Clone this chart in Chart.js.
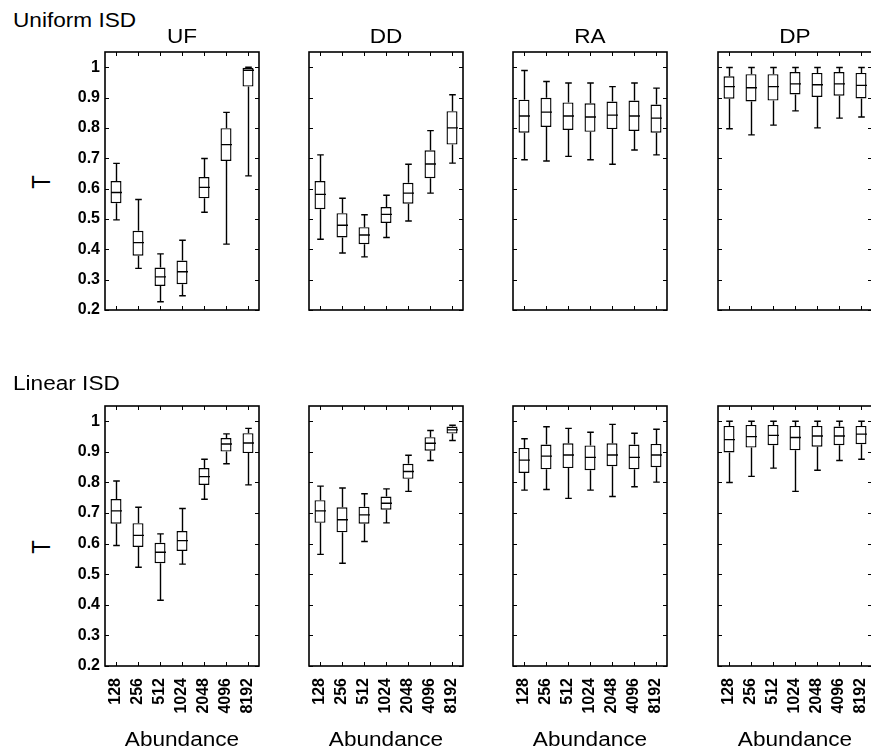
<!DOCTYPE html>
<html>
<head>
<meta charset="utf-8">
<script src="https://cdn.jsdelivr.net/npm/chart.js@4.4.1/dist/chart.umd.min.js"></script>
<style>
  html, body { margin: 0; padding: 0; background: #fff; }
  #wrap { position: relative; width: 871px; height: 752px; overflow: hidden; background: #fff;
          font-family: "Liberation Sans", Arial, sans-serif; color: #000; }
  #wrap canvas { position: absolute; }
  .txt { position: absolute; font-size: 20px; line-height: 20px; white-space: nowrap; }
  .lft { transform: scaleX(1.13); transform-origin: left center; }
  .ctr { width: 200px; text-align: center; transform: scaleX(1.13); }
  .ylab { font-size: 22px; transform: rotate(-90deg) scale(1, 1.13); transform-origin: center center; width: 20px; text-align: center; }
</style>
</head>
<body>
<div id="wrap"></div>
<script>
// x categories and panel names
const abundance = ['128', '256', '512', '1024', '2048', '4096', '8192'];
const methods = ['UF', 'DD', 'RA', 'DP'];
const rowNames = ['Uniform ISD', 'Linear ISD'];

// each box: [lower whisker, q1, median, q3, upper whisker]
const uniformUF = [
  [0.497, 0.552, 0.587, 0.625, 0.683],
  [0.337, 0.379, 0.422, 0.461, 0.564],
  [0.227, 0.279, 0.309, 0.340, 0.385],
  [0.247, 0.285, 0.326, 0.363, 0.430],
  [0.522, 0.568, 0.604, 0.638, 0.699],
  [0.417, 0.691, 0.745, 0.799, 0.851],
  [0.642, 0.936, 0.990, 0.998, 1.000]
];
const uniformDD = [
  [0.433, 0.532, 0.581, 0.625, 0.711],
  [0.388, 0.439, 0.479, 0.519, 0.568],
  [0.375, 0.417, 0.447, 0.473, 0.514],
  [0.439, 0.487, 0.515, 0.539, 0.578],
  [0.493, 0.550, 0.585, 0.619, 0.680],
  [0.585, 0.634, 0.681, 0.726, 0.791],
  [0.684, 0.745, 0.800, 0.855, 0.909]
];
const uniformRA = [
  [0.695, 0.784, 0.839, 0.893, 0.989],
  [0.691, 0.803, 0.852, 0.899, 0.953],
  [0.706, 0.793, 0.839, 0.884, 0.948],
  [0.695, 0.787, 0.836, 0.881, 0.948],
  [0.680, 0.796, 0.842, 0.887, 0.936],
  [0.727, 0.790, 0.839, 0.890, 0.948],
  [0.711, 0.784, 0.832, 0.877, 0.931]
];
const uniformDP = [
  [0.797, 0.896, 0.936, 0.970, 0.999],
  [0.777, 0.887, 0.932, 0.977, 0.999],
  [0.809, 0.890, 0.936, 0.977, 0.999],
  [0.856, 0.910, 0.945, 0.984, 0.999],
  [0.800, 0.902, 0.942, 0.981, 0.999],
  [0.832, 0.906, 0.945, 0.984, 0.999],
  [0.836, 0.897, 0.940, 0.981, 0.999]
];
const linearUF = [
  [0.594, 0.665, 0.707, 0.746, 0.805],
  [0.523, 0.589, 0.627, 0.667, 0.719],
  [0.415, 0.536, 0.572, 0.603, 0.632],
  [0.533, 0.576, 0.610, 0.641, 0.715],
  [0.745, 0.792, 0.819, 0.847, 0.876],
  [0.861, 0.901, 0.926, 0.945, 0.959],
  [0.792, 0.896, 0.929, 0.961, 0.977]
];
const linearDD = [
  [0.565, 0.668, 0.707, 0.742, 0.788],
  [0.536, 0.637, 0.678, 0.719, 0.782],
  [0.607, 0.665, 0.694, 0.721, 0.763],
  [0.668, 0.711, 0.732, 0.754, 0.779],
  [0.771, 0.812, 0.836, 0.861, 0.889],
  [0.872, 0.904, 0.928, 0.948, 0.970],
  [0.937, 0.960, 0.972, 0.983, 0.987]
];
const linearRA = [
  [0.775, 0.831, 0.873, 0.913, 0.943],
  [0.777, 0.843, 0.886, 0.924, 0.982],
  [0.748, 0.847, 0.890, 0.928, 0.977],
  [0.775, 0.840, 0.882, 0.921, 0.964],
  [0.754, 0.853, 0.890, 0.928, 0.990],
  [0.786, 0.843, 0.882, 0.924, 0.961],
  [0.801, 0.850, 0.890, 0.926, 0.974]
];
const linearDP = [
  [0.800, 0.898, 0.940, 0.985, 1.000],
  [0.820, 0.914, 0.950, 0.988, 1.000],
  [0.847, 0.922, 0.954, 0.988, 1.000],
  [0.771, 0.905, 0.947, 0.985, 1.000],
  [0.840, 0.917, 0.952, 0.985, 1.000],
  [0.872, 0.922, 0.952, 0.983, 1.000],
  [0.876, 0.925, 0.958, 0.985, 1.000]
];

const panels = [
  [uniformUF, uniformDD, uniformRA, uniformDP],
  [linearUF, linearDD, linearRA, linearDP]
];

const yMin = 0.2, yMax = 1.05, yStep = 0.1;

// layout (px)
const colLeft = [105, 309, 513, 718];
const rowTop = [52, 406];
const plotW = 154;
const plotH = [258, 260];
const axisW = 45, padTop = 20, padRight = 30;
const xAxisH = [24, 70];

const wrap = document.getElementById('wrap');

function addText(str, cls, left, top) {
  const d = document.createElement('div');
  d.className = 'txt ' + cls;
  d.textContent = str;
  d.style.left = left + 'px';
  d.style.top = top + 'px';
  wrap.appendChild(d);
}

// whiskers, medians, frame and inward tick marks
function boxPlot(boxes) {
  return {
    id: 'boxPlot',
    afterDatasetsDraw(chart) {
      const { ctx, chartArea: a, scales: { x, y } } = chart;
      const meta = chart.getDatasetMeta(0);
      ctx.save();
      ctx.strokeStyle = '#000';
      ctx.lineWidth = 1.4;
      ctx.beginPath();
      boxes.forEach((b, i) => {
        const cx = Math.round(x.getPixelForValue(i)) + 0.5;
        const half = meta.data[i].width / 2;
        const cap = half * 0.6;
        const [lo, q1, med, q3, hi] = b.map(v => y.getPixelForValue(v));
        ctx.moveTo(cx, q1); ctx.lineTo(cx, lo);
        ctx.moveTo(cx, q3); ctx.lineTo(cx, hi);
        ctx.moveTo(cx - cap, lo); ctx.lineTo(cx + cap, lo);
        ctx.moveTo(cx - cap, hi); ctx.lineTo(cx + cap, hi);
        ctx.moveTo(cx - half, med); ctx.lineTo(cx + half, med);
      });
      ctx.stroke();

      ctx.lineWidth = 1;
      ctx.beginPath();
      y.ticks.forEach(t => {
        const py = Math.round(y.getPixelForValue(t.value)) + 0.5;
        ctx.moveTo(a.left, py); ctx.lineTo(a.left + 4, py);
        ctx.moveTo(a.right, py); ctx.lineTo(a.right - 4, py);
      });
      abundance.forEach((_, i) => {
        const px = Math.round(x.getPixelForValue(i)) + 0.5;
        ctx.moveTo(px, a.bottom); ctx.lineTo(px, a.bottom - 4);
        ctx.moveTo(px, a.top); ctx.lineTo(px, a.top + 4);
      });
      ctx.stroke();

      ctx.lineWidth = 1.6;
      ctx.strokeRect(a.left, a.top, a.right - a.left, a.bottom - a.top);
      ctx.restore();
    }
  };
}

panels.forEach((row, r) => {
  row.forEach((boxes, c) => {
    const cv = document.createElement('canvas');
    const w = axisW + plotW + padRight;
    const h = padTop + plotH[r] + xAxisH[r];
    cv.width = w;
    cv.height = h;
    cv.style.left = (colLeft[c] - axisW) + 'px';
    cv.style.top = (rowTop[r] - padTop) + 'px';
    wrap.appendChild(cv);

    new Chart(cv.getContext('2d'), {
      type: 'bar',
      data: {
        labels: abundance,
        datasets: [{
          data: boxes.map(b => [b[1], b[3]]),
          backgroundColor: '#fff',
          borderColor: '#000',
          borderWidth: 1.4,
          borderSkipped: false,
          barPercentage: 0.5,
          categoryPercentage: 1
        }]
      },
      options: {
        responsive: false,
        animation: false,
        events: [],
        layout: { padding: { top: padTop, right: padRight, left: 0, bottom: 0 } },
        plugins: { legend: { display: false }, tooltip: { enabled: false } },
        scales: {
          x: {
            offset: true,
            grid: { display: false, drawTicks: false },
            border: { display: false },
            ticks: {
              display: r === 1,
              autoSkip: false,
              minRotation: 90,
              maxRotation: 90,
              padding: 12,
              color: '#000',
              font: { family: 'Liberation Sans', size: 16, weight: 'bold' }
            },
            afterFit: s => { s.height = xAxisH[r]; }
          },
          y: {
            min: yMin,
            max: yMax,
            grid: { display: false, drawTicks: false },
            border: { display: false },
            ticks: {
              display: c === 0,
              stepSize: yStep,
              includeBounds: false,
              padding: 5,
              color: '#000',
              font: { family: 'Liberation Sans', size: 16, weight: 'bold' },
              callback: v => String(+v.toFixed(2))
            },
            afterFit: s => { s.width = axisW; }
          }
        }
      },
      plugins: [boxPlot(boxes)]
    });
  });
});

// row labels, panel titles, axis titles
addText(rowNames[0], 'lft', 13, 10);
addText(rowNames[1], 'lft', 13, 373);
methods.forEach((m, c) => addText(m, 'ctr', colLeft[c] + plotW / 2 - 100, 26));
methods.forEach((m, c) => addText('Abundance', 'ctr', colLeft[c] + plotW / 2 - 100, 729));
addText('T', 'ylab', 32, 172);
addText('T', 'ylab', 32, 537);
</script>
</body>
</html>
